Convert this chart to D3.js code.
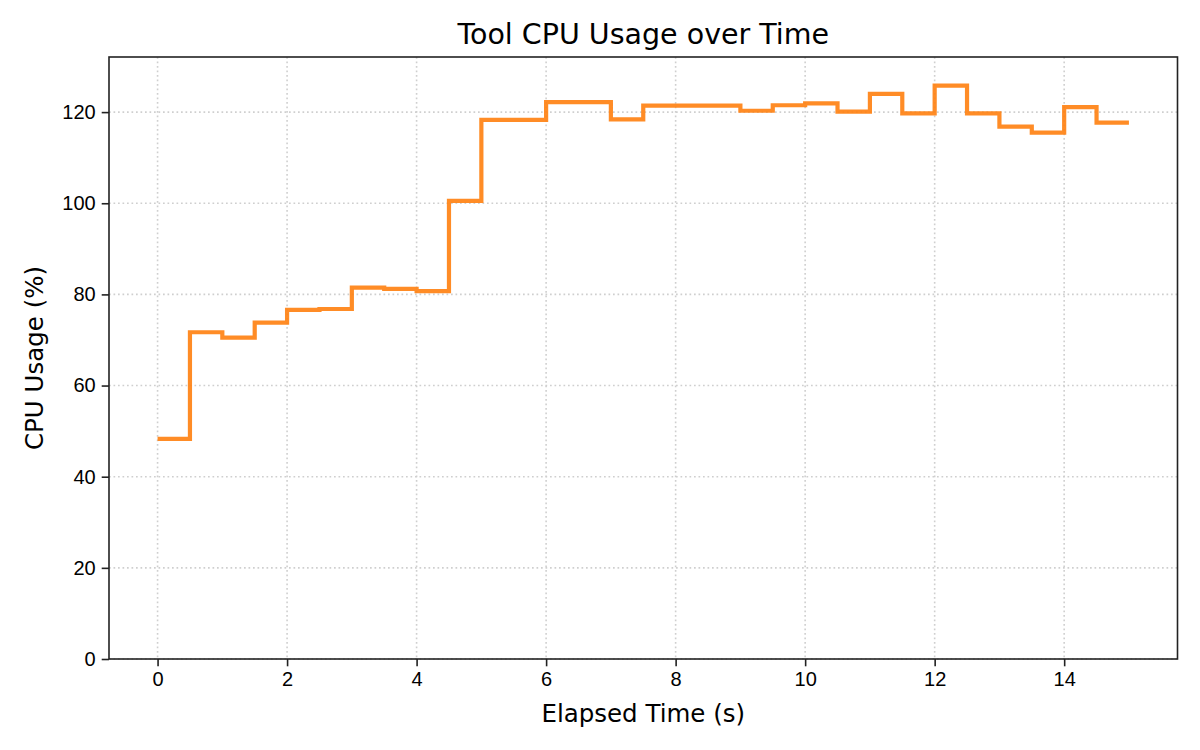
<!doctype html>
<html>
<head>
<meta charset="utf-8">
<script src="https://cdnjs.cloudflare.com/ajax/libs/d3/7.8.5/d3.min.js"></script>
<style>
  body { margin: 0; background: #fff; }
  svg { font-family: "DejaVu Sans", sans-serif; }
  .grid line { stroke: #cfcfcf; stroke-width: 1.6; stroke-dasharray: 1.7, 2.8; }
  .axis path, .axis line { stroke: #222; stroke-width: 1.6; }
  .axis text { fill: #000; font-size: 20px; }
</style>
</head>
<body>
<svg width="1200" height="750"></svg>
<script>
// elapsed time (s) and cpu usage (%), step plot (value holds until next sample)
var times = [0, 0.5, 1, 1.5, 2, 2.5, 3, 3.5, 4, 4.5, 5, 5.5, 6, 6.5, 7, 7.5,
             8, 8.5, 9, 9.5, 10, 10.5, 11, 11.5, 12, 12.5, 13, 13.5, 14, 14.5, 15];
var cpu = [48.3, 71.7, 70.5, 73.8, 76.6, 76.8, 81.5, 81.2, 80.7, 100.5,
           118.3, 118.3, 122.2, 122.2, 118.4, 121.4, 121.4, 121.4, 120.3, 121.5,
           121.9, 120.1, 124.0, 119.7, 125.8, 119.7, 116.8, 115.5, 121.1, 117.7, 117.7];
var xTicks = [0, 2, 4, 6, 8, 10, 12, 14];
var yTicks = [0, 20, 40, 60, 80, 100, 120];

var plotL = 109, plotR = 1177.5, plotT = 57, plotB = 659;
var svg = d3.select("svg");

var x = d3.scaleLinear().domain([-0.75, 15.75]).range([plotL, plotR]);
var y = d3.scaleLinear().domain([0, d3.max(cpu) * 1.05]).range([plotB, plotT]);

// dotted grid
svg.append("g").attr("class", "grid")
  .selectAll("line").data(xTicks).enter().append("line")
  .attr("x1", d => x(d)).attr("x2", d => x(d))
  .attr("y1", plotT).attr("y2", plotB);
svg.append("g").attr("class", "grid")
  .selectAll("line").data(yTicks).enter().append("line")
  .attr("x1", plotL).attr("x2", plotR)
  .attr("y1", d => y(d)).attr("y2", d => y(d));

// the step line
var line = d3.line()
  .x((d, i) => x(times[i]))
  .y(d => y(d))
  .curve(d3.curveStepAfter);
svg.append("path")
  .datum(cpu)
  .attr("d", line)
  .attr("fill", "none")
  .attr("stroke", "#ff7f0e")
  .attr("stroke-opacity", 0.9)
  .attr("stroke-width", 4.2)
  .attr("stroke-linejoin", "miter");

// axes
svg.append("g").attr("class", "axis")
  .attr("transform", "translate(0," + plotB + ")")
  .call(d3.axisBottom(x).tickValues(xTicks).tickSize(7.3).tickPadding(5).tickSizeOuter(0))
  .call(g => g.select(".domain").remove())
  .selectAll("text").attr("dy", "0.71em");
svg.append("g").attr("class", "axis")
  .attr("transform", "translate(" + plotL + ",0)")
  .call(d3.axisLeft(y).tickValues(yTicks).tickSize(7.3).tickPadding(6).tickSizeOuter(0))
  .call(g => g.select(".domain").remove());

// frame
svg.append("rect")
  .attr("x", plotL).attr("y", plotT)
  .attr("width", plotR - plotL).attr("height", plotB - plotT)
  .attr("fill", "none").attr("stroke", "#222").attr("stroke-width", 1.6);

// labels
svg.append("text")
  .attr("x", (plotL + plotR) / 2).attr("y", 44)
  .attr("text-anchor", "middle").style("font-size", "28.5px")
  .text("Tool CPU Usage over Time");
svg.append("text")
  .attr("x", (plotL + plotR) / 2).attr("y", 722)
  .attr("text-anchor", "middle").style("font-size", "24.5px")
  .text("Elapsed Time (s)");
svg.append("text")
  .attr("transform", "translate(43," + (plotT + plotB) / 2 + ") rotate(-90)")
  .attr("text-anchor", "middle").style("font-size", "24.5px")
  .text("CPU Usage (%)");
</script>
</body>
</html>
